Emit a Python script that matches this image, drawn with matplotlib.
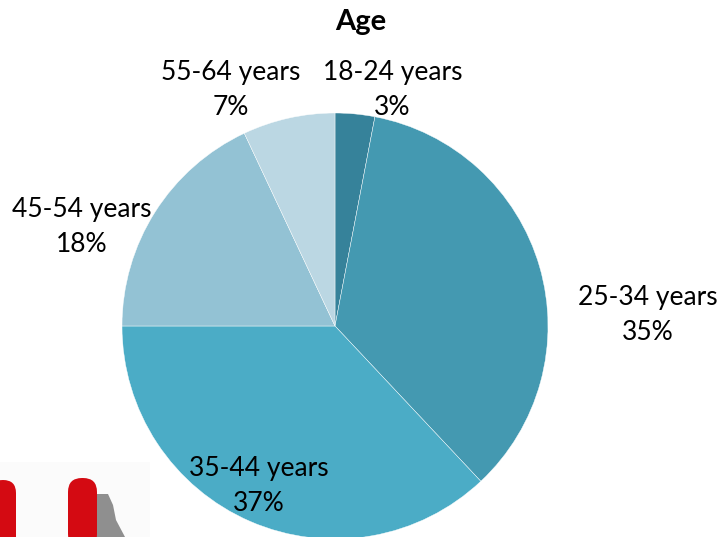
import matplotlib.pyplot as plt
from matplotlib.patches import FancyBboxPatch, Rectangle, Polygon

plt.rcParams['font.family'] = ['Lato', 'DejaVu Sans']

# age groups, clockwise from 12 o'clock
categories = ['18-24 years', '25-34 years', '35-44 years', '45-54 years', '55-64 years']
shares = [3, 35, 37, 18, 7]
colors = ['#36829a', '#4499b1', '#4bacc6', '#93c2d4', '#bbd7e3']

# where each two-line label sits (data units, pie radius = 1)
label_pos = [(0.27, 1.11), (1.47, 0.05), (-0.36, -0.75), (-1.19, 0.465), (-0.49, 1.11)]

W, H = 722, 537
fig = plt.figure(figsize=(W / 100, H / 100), dpi=100)

# pie centred at (335, 326) px with a 213 px radius
cx, cy, R = 335, H - 326, 213
ax = fig.add_axes([(cx - R) / W, (cy - R) / H, 2 * R / W, 2 * R / H])
wedges, texts = ax.pie(shares, colors=colors, startangle=90, counterclock=False,
                       radius=1, labels=[f'{c}\n{s}%' for c, s in zip(categories, shares)],
                       wedgeprops=dict(edgecolor='white', linewidth=0.3))
for t, (x, y) in zip(texts, label_pos):
    t.set_position((x, y))
    t.set_ha('center')
    t.set_va('center')
    t.set_fontsize(19)
    t.set_linespacing(1.5)
    t.set_color('black')
ax.set_xlim(-1, 1)
ax.set_ylim(-1, 1)
ax.axis('off')
for w in wedges:
    w.set_clip_on(False)

fig.text(361 / W, 1 - 22 / H, 'Age', ha='center', va='center',
         fontsize=21, fontweight='bold')

# clip-art fragment in the lower left corner (pixel coordinates)
art = fig.add_axes([0, 0, 150 / W, (H - 462) / H])
art.set_xlim(0, 150)
art.set_ylim(H, 462)
art.axis('off')
art.add_patch(Rectangle((0, 462), 150, 80, facecolor='#fbfbfb', edgecolor='none'))
art.add_patch(Polygon([(96, 494), (108, 494), (113, 505), (116, 520), (125, 537), (96, 537)],
                      facecolor='#8f8f8f', edgecolor='none'))
art.add_patch(FancyBboxPatch((-10, 480), 26, 70, boxstyle='round,pad=0,rounding_size=13',
                             facecolor='#d40a12', edgecolor='none'))
art.add_patch(FancyBboxPatch((68, 478), 29, 70, boxstyle='round,pad=0,rounding_size=14',
                             facecolor='#d40a12', edgecolor='none'))

fig.savefig('out.png', dpi=100)
